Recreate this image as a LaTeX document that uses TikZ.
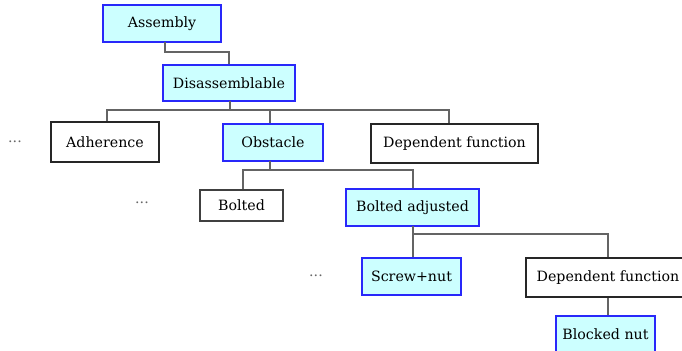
\documentclass[tikz,border=0pt]{standalone}
\usepackage{fontspec}
\setmainfont{DejaVu Serif}

\definecolor{boxblue}{RGB}{40,40,250}
\definecolor{boxfill}{RGB}{204,255,255}
\definecolor{linkgray}{RGB}{100,100,100}

\tikzset{
    concept/.style={draw=boxblue,line width=0.9pt,fill=boxfill,inner sep=0pt},
    plain/.style={draw=black!85,line width=1.1pt,fill=white,inner sep=0pt},
    light/.style={draw=black!75,line width=0.8pt,fill=white,inner sep=0pt},
    link/.style={draw=linkgray,line width=0.7pt},
    more/.style={text=black!60,inner sep=0pt}
}

\begin{document}
\begin{tikzpicture}[x=0.5pt,y=-0.5pt,font=\fontsize{7.1}{8.5}\selectfont]
    \useasboundingbox (0,0) rectangle (682,351);
    \clip (0,0) rectangle (682,351);

    % Links
    \coordinate (asmdrop) at (165,42);
    \coordinate (disdrop) at (230,101);
    \coordinate (obsdrop) at (270,161);
    \coordinate (badrop) at (413,226);

    % Top levels
    \node (asm) at (162,23.5) [concept,minimum width=59pt,minimum height=18.5pt] {Assembly};
    \node (dis) at (229,83) [concept,minimum width=66pt,minimum height=18pt] {Disassemblable};

    % Second level
    \node (adh) at (105,142) [plain,minimum width=54pt,minimum height=20pt] {Adherence};
    \node (obs) at (273,142.5) [concept,minimum width=50pt,minimum height=18.5pt] {Obstacle};
    \node (dep) at (454.5,143.5) [plain,minimum width=83.5pt,minimum height=19.5pt] {Dependent function};
    \node (moreA) at (15,142) [more] {...};

    % Third level
    \node (bolt) at (241.5,205.5) [light,minimum width=41.5pt,minimum height=15.5pt] {Bolted};
    \node (badj) at (412.5,207.5) [concept,minimum width=66.5pt,minimum height=18.5pt] {Bolted adjusted};
    \node (moreB) at (142,203) [more] {...};

    % Fourth level
    \node (screw) at (411.5,276.5) [concept,minimum width=49.5pt,minimum height=18.5pt] {Screw+nut};
    \node (dep2) at (608,277.5) [plain,minimum width=82pt,minimum height=19.5pt] {Dependent function};
    \node (moreC) at (316,276) [more] {...};

    % Fifth level
    \node (nut) at (605.5,334.5) [concept,minimum width=49.5pt,minimum height=18.5pt] {Blocked nut};

    \draw [link] (asmdrop) |- (229,52) -- (dis.north);
    \draw [link] (disdrop) |- (107,110) -- (adh.north -| 107,0);
    \draw [link] (disdrop) |- (270,110) -- (obs.north -| 270,0);
    \draw [link] (disdrop) |- (449,110) -- (dep.north -| 449,0);
    \draw [link] (obsdrop) |- (243,170) -- (bolt.north -| 243,0);
    \draw [link] (obsdrop) |- (413,170) -- (badj.north -| 413,0);
    \draw [link] (badrop) |- (413,234) -- (screw.north -| 413,0);
    \draw [link] (badrop) |- (608,234) -- (dep2.north);
    \draw [link] (dep2.south -| 608,0) -- (nut.north -| 608,0);
\end{tikzpicture}
\end{document}
